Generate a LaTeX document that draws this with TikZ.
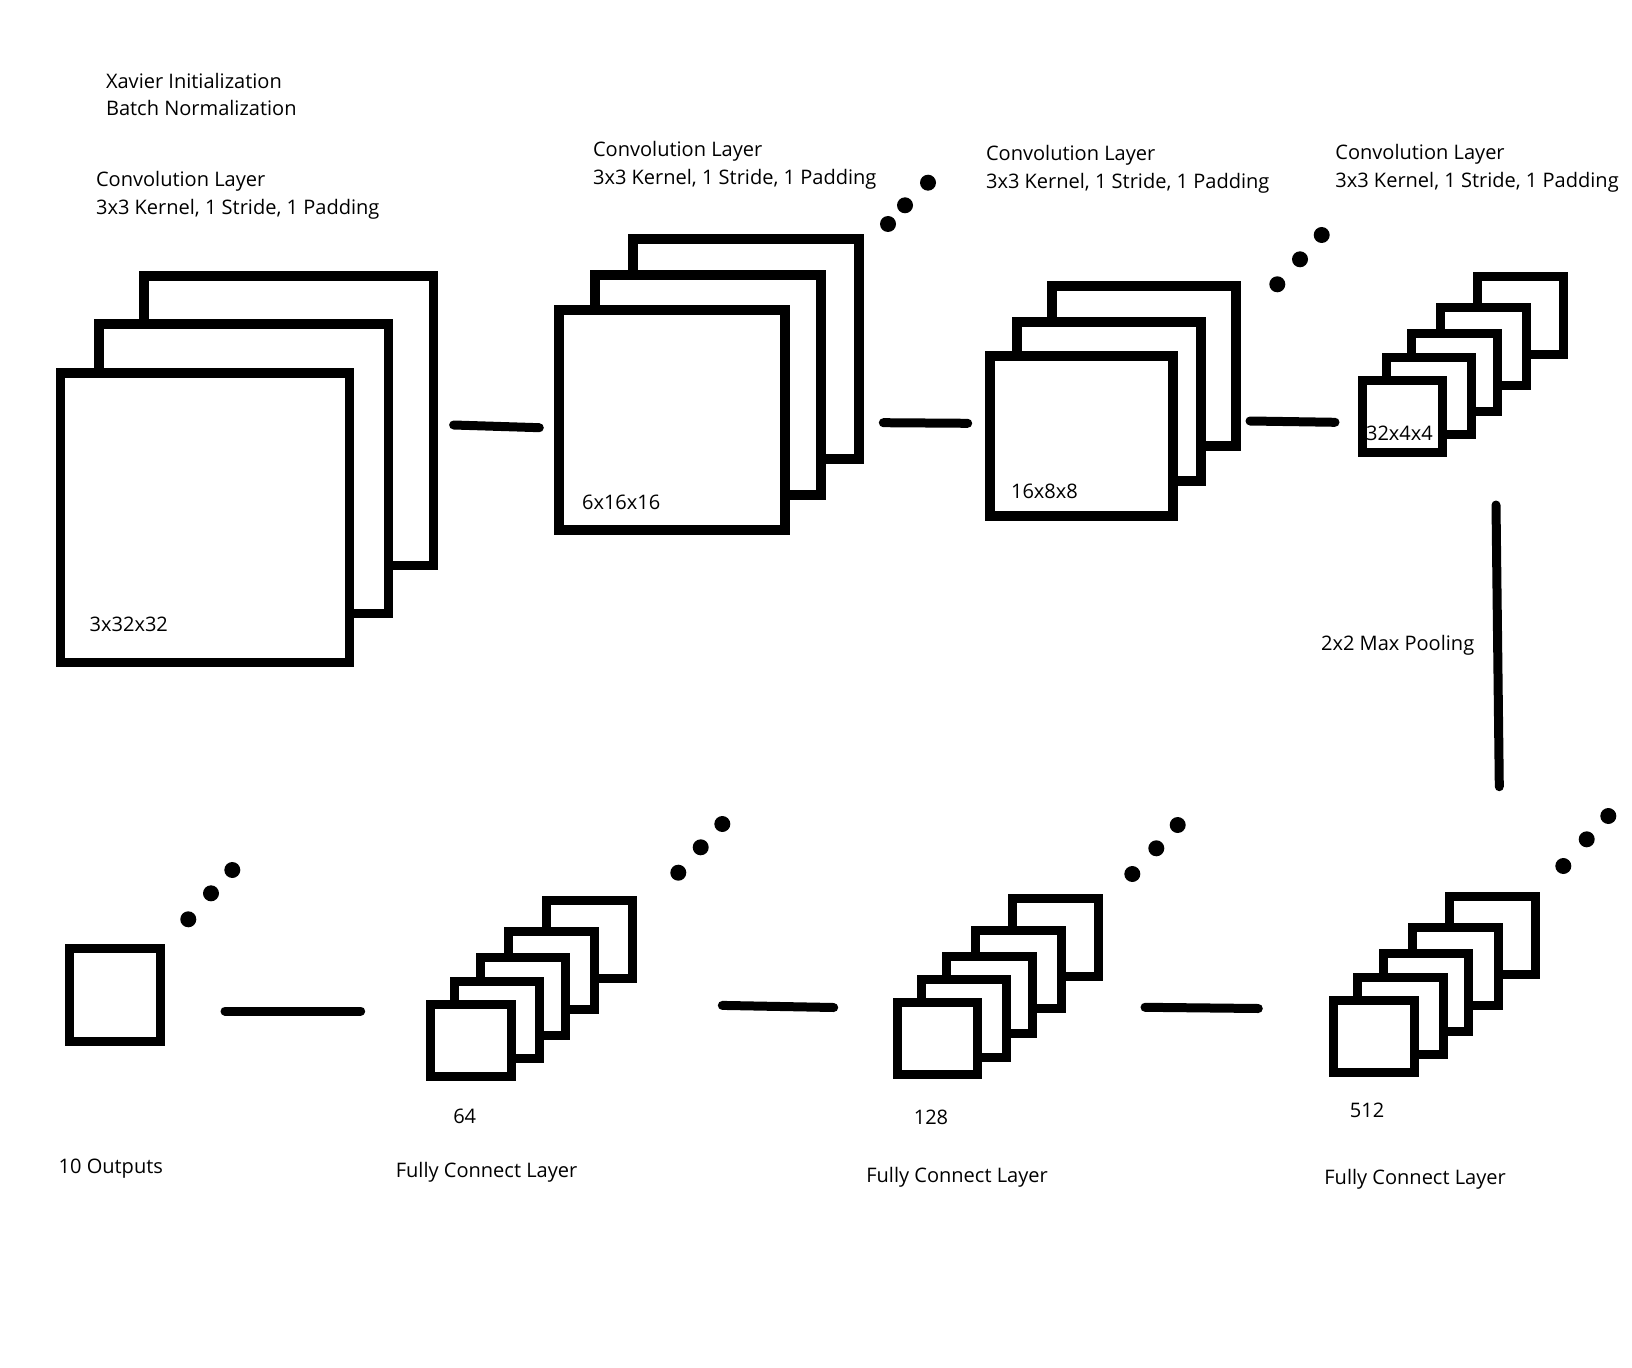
\documentclass[tikz,border=0pt]{standalone}
\usepackage{fontspec}
\setmainfont{Open Sans}
\usepackage{tikz}
\usetikzlibrary{calc}

\begin{document}
\begin{tikzpicture}[x=0.02cm,y=-0.02cm]
% Diagram style
\tikzset{
    fmap/.style={draw=black, fill=white, line width=0.195cm},
    fcbox/.style={draw=black, fill=white, line width=0.18cm},
    link/.style={line width=0.18cm, line cap=round},
    txt/.style={font=\fontsize{11.4}{15.9}\selectfont, inner sep=0pt, align=left}
}
\useasboundingbox (0,0) rectangle (1632,1368);

% Convolution feature maps
\draw[fmap] (144.3,275.9) rectangle (433.6,565.6);
\draw[fmap] (98.9,324.1) rectangle (388.6,613.4);
\draw[fmap] (60.4,373.2) rectangle (349.6,662.5);

\draw[fmap] (633,239) rectangle (858.7,458.7);
\draw[fmap] (594.7,275.3) rectangle (821,494.7);
\draw[fmap] (559,310.3) rectangle (784.7,529.7);

\draw[fmap] (1052,286.3) rectangle (1236,446);
\draw[fmap] (1017,322) rectangle (1201.3,481.3);
\draw[fmap] (989.7,355.7) rectangle (1173.3,516);

% Small stacks
\begin{scope}[shift={(1362,452.2)}]
\draw[fcbox] (115.7,-98) rectangle (201.7,-176);
\draw[fcbox] (78.3,-66.4) rectangle (164.3,-144.4);
\draw[fcbox] (49.7,-40.7) rectangle (135,-118.4);
\draw[fcbox] (24,-17.4) rectangle (109.3,-95);
\draw[fcbox] (0,0) rectangle (80.7,-71.7);
\end{scope}
\begin{scope}[shift={(430.5,1076.2)}]
\draw[fcbox] (115.7,-98) rectangle (201.7,-176);
\draw[fcbox] (78.3,-66.4) rectangle (164.3,-144.4);
\draw[fcbox] (49.7,-40.7) rectangle (135,-118.4);
\draw[fcbox] (24,-17.4) rectangle (109.3,-95);
\draw[fcbox] (0,0) rectangle (80.7,-71.7);
\end{scope}
\begin{scope}[shift={(897,1074.4)}]
\draw[fcbox] (115.7,-98) rectangle (201.7,-176);
\draw[fcbox] (78.3,-66.4) rectangle (164.3,-144.4);
\draw[fcbox] (49.7,-40.7) rectangle (135,-118.4);
\draw[fcbox] (24,-17.4) rectangle (109.3,-95);
\draw[fcbox] (0,0) rectangle (80.7,-71.7);
\end{scope}
\begin{scope}[shift={(1333.8,1072.2)}]
\draw[fcbox] (115.7,-98) rectangle (201.7,-176);
\draw[fcbox] (78.3,-66.4) rectangle (164.3,-144.4);
\draw[fcbox] (49.7,-40.7) rectangle (135,-118.4);
\draw[fcbox] (24,-17.4) rectangle (109.3,-95);
\draw[fcbox] (0,0) rectangle (80.7,-71.7);
\end{scope}

% Output unit
\draw[fcbox] (69.8,948.1) rectangle (160.2,1041.9);

% Dots
\fill (888,224) circle (0.16cm) (905,205.3) circle (0.16cm) (928,182.7) circle (0.16cm);
\fill (1277.3,284.3) circle (0.16cm) (1300,259.3) circle (0.16cm) (1321.7,235) circle (0.16cm);
\fill (188.3,919.3) circle (0.16cm) (211,893.3) circle (0.16cm) (232.3,870) circle (0.16cm);
\fill (678.3,872.7) circle (0.16cm) (700.7,847.3) circle (0.16cm) (722.3,824) circle (0.16cm);
\fill (1132.3,874) circle (0.16cm) (1156.3,848.3) circle (0.16cm) (1177.7,825) circle (0.16cm);
\fill (1563.3,866) circle (0.16cm) (1586.7,839.3) circle (0.16cm) (1608.3,816) circle (0.16cm);

% Connection
\coordinate (A1) at (453.6,425);   \coordinate (A2) at (539.3,427.7);
\coordinate (B1) at (883.3,422.7); \coordinate (B2) at (967.7,423.3);
\coordinate (C1) at (1250,421);    \coordinate (C2) at (1335,422.3);
\coordinate (P1) at (1496,505);    \coordinate (P2) at (1499.3,786.7);
\coordinate (D1) at (225,1011);    \coordinate (D2) at (360.7,1011);
\coordinate (E1) at (722.3,1005.4); \coordinate (E2) at (833.7,1007.5);
\coordinate (F1) at (1145,1007.3); \coordinate (F2) at (1258.3,1008.5);
\draw[link] (A1) -- (A2);
\draw[link] (B1) -- (B2);
\draw[link] (C1) -- (C2);
\draw[link] (P1) -- (P2);
\draw[link] (D1) -- (D2);
\draw[link] (E1) -- (E2);
\draw[link] (F1) -- (F2);

% Labels
\node[txt, anchor=west] (init) at (105.7,94.5) {Xavier Initialization\\Batch Normalization};
\node[txt, anchor=west] (convA) at (95.7,195.7) {Convolution Layer\\3x3 Kernel, 1 Stride, 1 Padding};
\node[txt, anchor=west] (convB) at (592.7,165) {Convolution Layer\\3x3 Kernel, 1 Stride, 1 Padding};
\node[txt, anchor=west] (convC) at (985.7,169.4) {Convolution Layer\\3x3 Kernel, 1 Stride, 1 Padding};
\node[txt, anchor=west] (convD) at (1335,168.2) {Convolution Layer\\3x3 Kernel, 1 Stride, 1 Padding};
\node[txt, anchor=west] (dimA) at (89.3,624.1) {3x32x32};
\node[txt, anchor=west] (dimB) at (581.7,502.3) {6x16x16};
\node[txt, anchor=west] (dimC) at (1010.7,491) {16x8x8};
\node[txt, anchor=west] (dimD) at (1365.7,433.3) {32x4x4};
\node[txt, anchor=west] (pool) at (1320.7,645) {2x2 Max Pooling};
\node[txt, anchor=west] (out) at (58.3,1168.5) {10 Outputs};
\node[txt] (nA) at (464.7,1116.7) {64};
\node[txt] (nB) at (931,1117.3) {128};
\node[txt] (nC) at (1367,1110) {512};
\node[txt, anchor=west] (fcA) at (395.5,1172.5) {Fully Connect Layer};
\node[txt, anchor=west] (fcB) at (866,1177.7) {Fully Connect Layer};
\node[txt, anchor=west] (fcC) at (1324,1179) {Fully Connect Layer};
\end{tikzpicture}
\end{document}
